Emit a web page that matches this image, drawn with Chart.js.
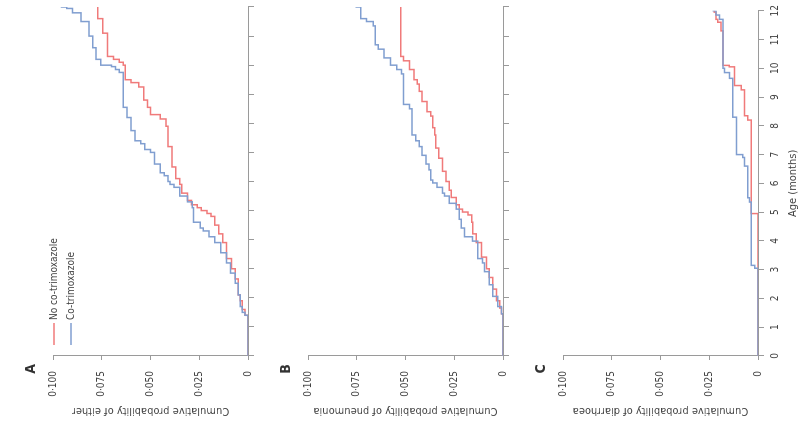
<!DOCTYPE html>
<html lang="en">
<head>
	<meta charset="UTF-8">
	<title>Cumulative probability by age</title>
	<script src="https://cdn.jsdelivr.net/npm/chart.js"></script>
	<style>
		html, body { margin: 0; padding: 0; background: #fff; overflow: hidden; }
		/* the figure is drawn upright and then turned a quarter turn to the left */
		#stage { position: absolute; left: 0; top: 0; width: 441px; height: 804px; transform-origin: 0 0; transform: translateY(441px) rotate(-90deg); }
		#stage canvas { display: block; }
	</style>
</head>
<body>
	<div id="stage">
		<canvas id="chartA" width="441" height="255"></canvas>
		<canvas id="chartB" width="441" height="255"></canvas>
		<canvas id="chartC" width="441" height="294"></canvas>
	</div>

	<script type="text/javascript">
		// series labels
		const seriesLabels = ['No co-trimoxazole', 'Co-trimoxazole'];

		// A: pneumonia or diarrhoea (either)
		const ageEitherNo  = [0, 1.4, 1.6, 1.9, 2.1, 2.65, 3.0, 3.35, 3.9, 4.2, 4.5, 4.8, 4.9, 5.0, 5.1, 5.2, 5.35, 5.6, 5.9, 6.1, 6.5, 7.2, 7.9, 8.15, 8.3, 8.55, 8.8, 9.25, 9.4, 9.5, 10.0, 10.1, 10.2, 10.3, 11.1, 11.6, 12];
		const probEitherNo = [0, 0.0015, 0.003, 0.004, 0.005, 0.0065, 0.0085, 0.011, 0.013, 0.015, 0.017, 0.019, 0.021, 0.024, 0.026, 0.029, 0.031, 0.034, 0.035, 0.037, 0.039, 0.041, 0.042, 0.045, 0.050, 0.0515, 0.0535, 0.056, 0.060, 0.063, 0.064, 0.066, 0.069, 0.072, 0.0745, 0.077, 0.077];
		const ageEitherCo  = [0, 1.4, 1.5, 1.7, 2.1, 2.5, 2.85, 3.2, 3.55, 3.9, 4.1, 4.3, 4.4, 4.6, 5.1, 5.3, 5.5, 5.8, 5.9, 6.0, 6.2, 6.3, 6.6, 7.0, 7.1, 7.3, 7.4, 7.75, 8.2, 8.55, 9.75, 9.85, 9.95, 10.0, 10.2, 10.6, 11.0, 11.5, 11.8, 11.95, 12];
		const probEitherCo = [0, 0.0015, 0.003, 0.004, 0.005, 0.0066, 0.009, 0.011, 0.014, 0.017, 0.020, 0.023, 0.0245, 0.028, 0.0286, 0.031, 0.035, 0.038, 0.040, 0.041, 0.043, 0.045, 0.048, 0.050, 0.053, 0.055, 0.058, 0.060, 0.062, 0.064, 0.066, 0.068, 0.070, 0.0755, 0.078, 0.0796, 0.0816, 0.0857, 0.090, 0.093, 0.096];

		// B: pneumonia
		const agePneuNo  = [0, 1.45, 1.65, 1.9, 2.3, 2.7, 3.0, 3.4, 3.9, 4.2, 4.6, 4.85, 4.95, 5.05, 5.2, 5.45, 5.7, 6.0, 6.35, 6.8, 7.15, 7.6, 7.85, 8.25, 8.4, 8.75, 9.1, 9.35, 9.5, 9.85, 10.15, 10.3, 12];
		const probPneuNo = [0, 0.0008, 0.0017, 0.0033, 0.0053, 0.007, 0.0085, 0.011, 0.0137, 0.0155, 0.016, 0.018, 0.0208, 0.0224, 0.024, 0.0266, 0.0276, 0.0292, 0.031, 0.033, 0.0345, 0.035, 0.036, 0.037, 0.039, 0.0415, 0.043, 0.044, 0.0457, 0.048, 0.051, 0.0525, 0.0525];
		const agePneuCo  = [0, 1.45, 1.7, 2.05, 2.45, 2.9, 3.2, 3.35, 3.95, 4.1, 4.4, 4.7, 5.05, 5.25, 5.5, 5.6, 5.8, 5.95, 6.05, 6.4, 6.6, 6.9, 7.2, 7.4, 7.6, 8.5, 8.65, 9.7, 9.85, 10.0, 10.25, 10.55, 10.7, 11.35, 11.5, 11.6, 12];
		const probPneuCo = [0, 0.0008, 0.0027, 0.0053, 0.007, 0.0095, 0.0105, 0.013, 0.0156, 0.0198, 0.0214, 0.0224, 0.024, 0.0276, 0.030, 0.031, 0.0338, 0.036, 0.037, 0.038, 0.0395, 0.0415, 0.043, 0.0448, 0.0467, 0.048, 0.051, 0.052, 0.0545, 0.0577, 0.061, 0.064, 0.0655, 0.0665, 0.070, 0.073, 0.0757];

		// C: diarrhoea
		const ageDiarNo  = [0, 4.95, 8.2, 8.35, 9.25, 9.4, 10.05, 10.1, 11.3, 11.6, 11.7, 11.95, 12];
		const probDiarNo = [0, 0.0034, 0.0053, 0.0069, 0.0086, 0.012, 0.0147, 0.018, 0.019, 0.0207, 0.0215, 0.0224, 0.0224];
		const ageDiarCo  = [0, 3.05, 3.15, 5.35, 5.5, 6.6, 6.9, 7.0, 8.3, 9.65, 9.85, 10.0, 11.7, 11.85, 12];
		const probDiarCo = [0, 0.0017, 0.0034, 0.0043, 0.0052, 0.0069, 0.0078, 0.011, 0.0129, 0.0146, 0.0172, 0.018, 0.0198, 0.0215, 0.0233];

		// axis ticks
		const ageTicks = [0, 1, 2, 3, 4, 5, 6, 7, 8, 9, 10, 11, 12];
		const probTicks = [0, 0.025, 0.05, 0.075, 0.1];

		const FONT = "'Liberation Sans Narrow', 'DejaVu Sans Condensed', 'Arial Narrow', sans-serif";
		const RED = 'rgb(240, 122, 122)';
		const BLUE = 'rgb(128, 158, 208)';
		const AXIS = '#9a9a9a';
		const TEXT = '#444';

		function toPoints(ages, probs) {
			return ages.map(function(a, i) { return { x: a, y: probs[i] }; });
		}

		function fmtProb(v) {
			return v === 0 ? '0' : v.toFixed(3).replace('.', '\u00b7');
		}

		// panel letter + legend, drawn after the chart
		const panelExtras = {
			id: 'panelExtras',
			afterDraw: function(chart, args, opts) {
				const ctx = chart.ctx;
				ctx.save();
				ctx.fillStyle = '#333';
				ctx.font = 'bold 14px ' + FONT;
				ctx.textAlign = 'center';
				ctx.textBaseline = 'middle';
				ctx.fillText(opts.letter, 72, 31);
				if (opts.legend) {
					ctx.font = '10px ' + FONT;
					ctx.textAlign = 'left';
					chart.data.datasets.forEach(function(ds, i) {
						const y = 54 + i * 17;
						ctx.strokeStyle = ds.borderColor;
						ctx.lineWidth = 1.5;
						ctx.beginPath();
						ctx.moveTo(96, y);
						ctx.lineTo(118, y);
						ctx.stroke();
						ctx.fillStyle = TEXT;
						ctx.fillText(ds.label, 121, y);
					});
				}
				ctx.restore();
			}
		};

		function makePanel(id, letter, yTitle, noAges, noProbs, coAges, coProbs, isLast, showLegend) {
			const canvas = document.getElementById(id);
			const h = canvas.height;
			return new Chart(canvas, {
				type: 'line',
				data: {
					datasets: [{
						label: seriesLabels[0],
						data: toPoints(noAges, noProbs),
						borderColor: RED,
						borderWidth: 1.5,
						pointRadius: 0,
						stepped: true,
						fill: false,
						order: 1
					}, {
						label: seriesLabels[1],
						data: toPoints(coAges, coProbs),
						borderColor: BLUE,
						borderWidth: 1.5,
						pointRadius: 0,
						stepped: true,
						fill: false,
						order: 0
					}]
				},
				options: {
					responsive: false,
					animation: false,
					events: [],
					layout: { padding: { top: 53, right: 7, left: 0, bottom: 0 } },
					plugins: {
						legend: { display: false },
						tooltip: { enabled: false },
						panelExtras: { letter: letter, legend: showLegend }
					},
					scales: {
						x: {
							type: 'linear',
							min: 0,
							max: 12,
							afterBuildTicks: function(s) { s.ticks = ageTicks.map(function(v) { return { value: v }; }); },
							afterFit: function(s) { s.height = h - 248; },
							border: { display: true, color: AXIS, width: 1 },
							grid: { drawOnChartArea: false, drawTicks: true, tickLength: 6, color: AXIS },
							ticks: { display: isLast, padding: 5, color: TEXT, font: { family: FONT, size: 10 } },
							title: { display: isLast, text: 'Age (months)', color: TEXT, padding: { top: 0, bottom: 4 }, font: { family: FONT, size: 11 } }
						},
						y: {
							min: 0,
							max: 0.1,
							afterBuildTicks: function(s) { s.ticks = probTicks.map(function(v) { return { value: v }; }); },
							// keep the bottom label from pushing the chart area up
							afterFit: function(s) { s.width = 85; s.paddingBottom = 0; },
							border: { display: true, color: AXIS, width: 1 },
							grid: { drawOnChartArea: false, drawTicks: true, tickLength: 4, color: AXIS },
							ticks: { padding: 11, color: TEXT, font: { family: FONT, size: 10 }, callback: fmtProb },
							title: { display: true, text: yTitle, color: TEXT, padding: { top: 24, bottom: 0 }, font: { family: FONT, size: 11 } }
						}
					}
				},
				plugins: [panelExtras]
			});
		}

		makePanel('chartA', 'A', 'Cumulative probability of either', ageEitherNo, probEitherNo, ageEitherCo, probEitherCo, false, true);
		makePanel('chartB', 'B', 'Cumulative probability of pneumonia', agePneuNo, probPneuNo, agePneuCo, probPneuCo, false, false);
		makePanel('chartC', 'C', 'Cumulative probability of diarrhoea', ageDiarNo, probDiarNo, ageDiarCo, probDiarCo, true, false);
	</script>
</body>
</html>
